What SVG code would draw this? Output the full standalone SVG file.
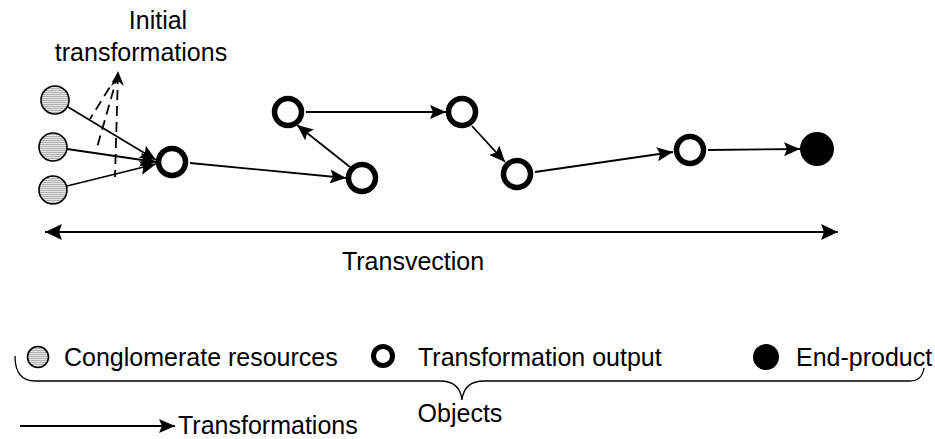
<svg xmlns="http://www.w3.org/2000/svg" width="935" height="439" viewBox="0 0 935 439">
  <defs>
    <pattern id="hatch" width="4" height="2" patternUnits="userSpaceOnUse">
      <rect width="4" height="2" fill="#e6e6e6"/>
      <line x1="0" y1="0.5" x2="4" y2="0.5" stroke="#9a9a9a" stroke-width="0.7"/>
    </pattern>
    <marker id="arrow" viewBox="0 0 16 14" refX="16" refY="7" markerWidth="16" markerHeight="14" markerUnits="userSpaceOnUse" orient="auto-start-reverse">
      <path d="M0,0 L16,7 L0,14 L3,7 Z" fill="#000"/>
    </marker>
    <marker id="arrowBig" viewBox="0 0 17 16" refX="17" refY="8" markerWidth="17" markerHeight="16" markerUnits="userSpaceOnUse" orient="auto-start-reverse">
      <path d="M0,0 L17,8 L0,16 L3,8 Z" fill="#000"/>
    </marker>
  </defs>
  <style>
    .txt { font-family: "Liberation Sans", Arial, sans-serif; font-size: 25px; fill: #000; }
    .res { fill: url(#hatch); stroke: #000; stroke-width: 1.6; }
    .out { fill: #fff; stroke: #000; stroke-width: 5.5; }
    .end { fill: #000; }
    .edge { stroke: #000; stroke-width: 1.8; fill: none; marker-end: url(#arrow); }
    .dash { stroke: #000; stroke-width: 1.8; fill: none; stroke-dasharray: 10 6; }
    .line { stroke: #000; stroke-width: 1.8; fill: none; }
  </style>

  <!-- caption for the first steps -->
  <g id="label-initial">
    <text class="txt" x="158" y="29" text-anchor="middle">Initial</text>
    <text class="txt" x="141" y="61" text-anchor="middle">transformations</text>
  </g>

  <!-- conglomerate resources -->
  <g id="res1"><circle class="res" cx="55" cy="100" r="14"/></g>
  <g id="res2"><circle class="res" cx="53" cy="147" r="14"/></g>
  <g id="res3"><circle class="res" cx="53" cy="190" r="14"/></g>

  <!-- transformation outputs -->
  <g id="out1"><circle class="out" cx="172" cy="162" r="13.5"/></g>
  <g id="out2"><circle class="out" cx="288" cy="112" r="13.5"/></g>
  <g id="out3"><circle class="out" cx="362" cy="178" r="13.5"/></g>
  <g id="out4"><circle class="out" cx="462" cy="112" r="13.5"/></g>
  <g id="out5"><circle class="out" cx="517" cy="174" r="13.5"/></g>
  <g id="out6"><circle class="out" cx="690" cy="150" r="13.5"/></g>

  <!-- end product -->
  <g id="end"><circle class="end" cx="817" cy="149" r="17"/></g>

  <!-- transformations -->
  <g id="connectors">
    <line class="edge" x1="68" y1="107" x2="156" y2="160"/>
    <line class="edge" x1="67" y1="149" x2="156" y2="162"/>
    <line class="edge" x1="67" y1="186" x2="156" y2="164"/>
    <line class="edge" x1="190" y1="163" x2="346" y2="178"/>
    <line class="edge" x1="350" y1="167" x2="297" y2="125"/>
    <line class="edge" x1="306" y1="112" x2="446" y2="112"/>
    <line class="edge" x1="472" y1="126" x2="505" y2="162"/>
    <line class="edge" x1="535" y1="172" x2="673" y2="152"/>
    <line class="edge" x1="708" y1="150" x2="800" y2="149"/>
    <!-- initial transformations -->
    <line class="dash" x1="118" y1="74" x2="90" y2="119"/>
    <line class="dash" x1="118" y1="74" x2="96" y2="151"/>
    <line class="dash" x1="118" y1="74" x2="115" y2="177"/>
    <path d="M118,71 L111,86 L118,81 L124,86 Z" fill="#000"/>
    <!-- transvection span -->
    <line class="line" x1="45" y1="232" x2="838" y2="232" marker-start="url(#arrowBig)" marker-end="url(#arrowBig)"/>
  </g>

  <g id="label-transvection">
    <text class="txt" x="413" y="270" text-anchor="middle">Transvection</text>
  </g>

  <!-- legend -->
  <g id="legend-res">
    <circle class="res" cx="38" cy="357" r="10.5"/>
    <text class="txt" x="64" y="366">Conglomerate resources</text>
  </g>
  <g id="legend-out">
    <circle class="out" cx="383" cy="356" r="9.5" style="stroke-width:5"/>
    <text class="txt" x="418" y="366">Transformation output</text>
  </g>
  <g id="legend-end">
    <circle class="end" cx="766" cy="357" r="13"/>
    <text class="txt" x="796" y="366">End-product</text>
  </g>

  <!-- brace grouping the objects -->
  <g id="brace">
    <path class="line" style="stroke-width:1.3" d="M15,356 Q15,381 35,381 L440,381 Q460,381 462,400 Q464,381 484,381 L910,381 Q922,381 924,368"/>
    <text class="txt" x="460" y="422" text-anchor="middle">Objects</text>
  </g>

  <g id="legend-edge">
    <line class="edge" x1="20" y1="426" x2="175" y2="426"/>
    <text class="txt" x="178" y="434">Transformations</text>
  </g>
</svg>
